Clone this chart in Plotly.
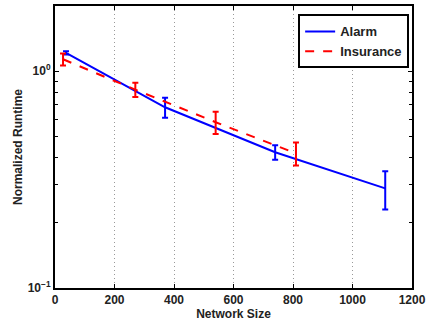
import plotly.graph_objects as go

alarm_x = [37, 370, 740, 1110]
alarm_y = [1.215, 0.682, 0.423, 0.288]
alarm_err = [0.02, 0.072, 0.032, 0.058]

ins_x = [27, 270, 540, 810]
ins_y = [1.136, 0.822, 0.582, 0.418]
ins_err = [0.072, 0.062, 0.068, 0.051]

x_ticks = [0, 200, 400, 600, 800, 1000, 1200]
y_ticks = [0.1, 1]
y_ticktext = ["<b>10<sup>−1</sup></b>", "<b>10<sup>0</sup></b>"]
y_minor = [0.2, 0.3, 0.4, 0.5, 0.6, 0.7, 0.8, 0.9, 2]

FAM = "Liberation Sans, Arial, sans-serif"
TXT = "#222"

fig = go.Figure()
fig.add_trace(go.Scatter(
    x=alarm_x, y=alarm_y, name="Alarm", mode="lines",
    line=dict(color="#0000ff", width=2),
    error_y=dict(type="data", array=alarm_err, color="#0000ff", thickness=2, width=3),
))
fig.add_trace(go.Scatter(
    x=ins_x, y=ins_y, name="Insurance", mode="lines",
    line=dict(color="#ff0000", width=2, dash="dash"),
    error_y=dict(type="data", array=ins_err, color="#ff0000", thickness=2, width=3),
))

fig.update_layout(
    width=426, height=323,
    margin=dict(l=55, r=14, t=6, b=35),
    paper_bgcolor="white", plot_bgcolor="white",
    font=dict(family=FAM, size=11, color=TXT),
    showlegend=True,
    legend=dict(
        x=0.992, y=0.97, xanchor="right", yanchor="top",
        bordercolor="black", borderwidth=2, bgcolor="white",
        font=dict(family=FAM, size=13, color=TXT, weight="bold"),
        tracegroupgap=0, itemwidth=30,
    ),
    xaxis=dict(
        range=[0, 1200], tickvals=x_ticks, automargin=False,
        showline=True, linecolor="black", linewidth=2, mirror="ticks",
        ticks="inside", ticklen=4, tickcolor="black", tickwidth=1,
        showgrid=True, gridcolor="#999", griddash="1px,3px", gridwidth=1,
        zeroline=False,
        tickfont=dict(family=FAM, size=12, color=TXT, weight="bold"),
        title=dict(text="<b>Network Size</b>", standoff=0,
                   font=dict(family=FAM, size=12, color=TXT)),
    ),
    yaxis=dict(
        type="log", range=[-1, 0.301], automargin=False,
        tickvals=y_ticks, ticktext=y_ticktext,
        showline=True, linecolor="black", linewidth=2, mirror="ticks",
        ticks="inside", ticklen=4, tickcolor="black", tickwidth=1,
        minor=dict(tickvals=y_minor, ticks="inside", ticklen=3, tickcolor="black", showgrid=False),
        showgrid=False, zeroline=False,
        tickfont=dict(family=FAM, size=12, color=TXT, weight="bold"),
        title=dict(text="<b>Normalized Runtime</b>", standoff=2,
                   font=dict(family=FAM, size=12, color=TXT)),
    ),
)

fig.write_html("out.html", config={"displayModeBar": False},
               post_script="document.body.style.margin='0';")
